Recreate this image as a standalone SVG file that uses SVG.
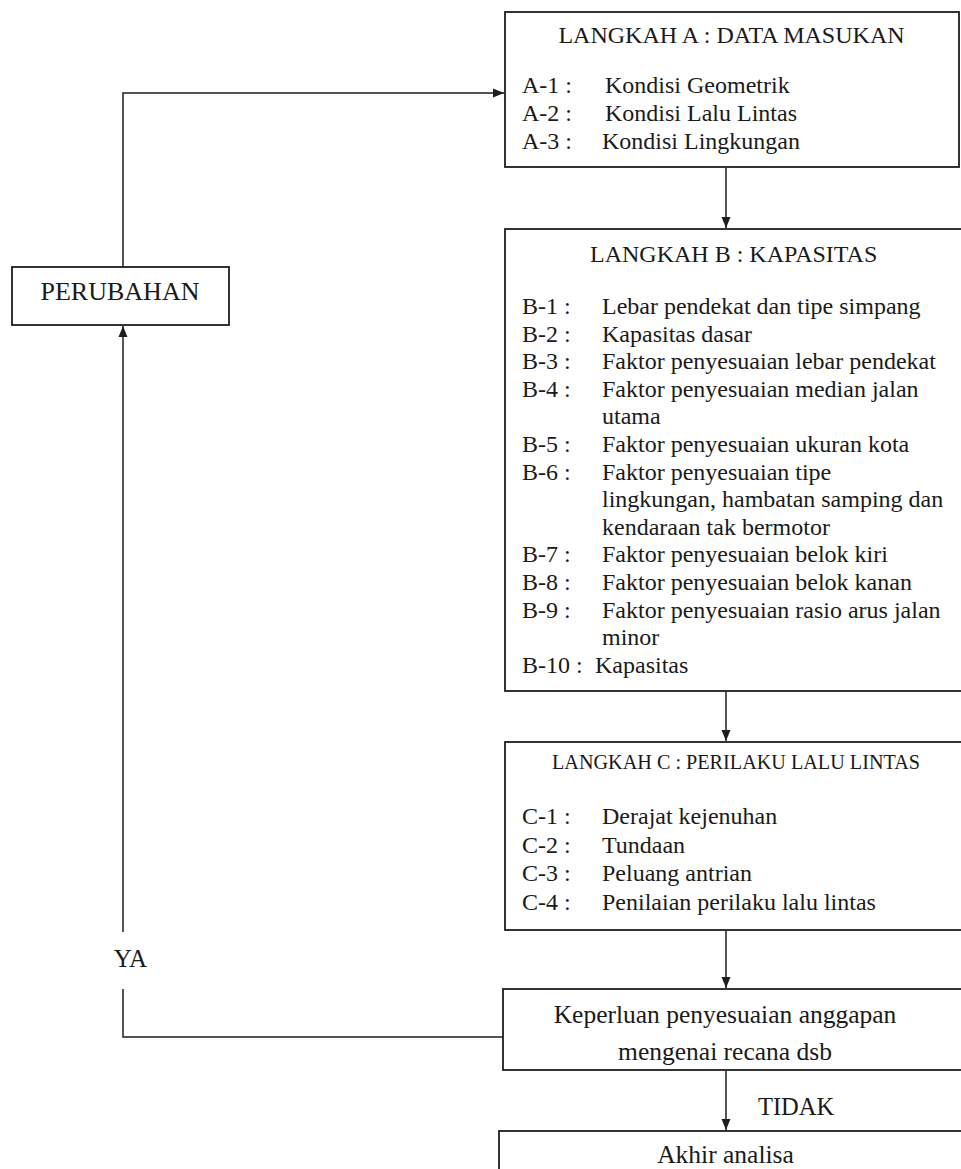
<svg xmlns="http://www.w3.org/2000/svg" width="961" height="1169" viewBox="0 0 961 1169">
<style>
.box{fill:#fff;stroke:#1e1e1e;stroke-width:1.8}
.ln{fill:none;stroke:#1e1e1e;stroke-width:1.5}
text{font-family:"Liberation Serif","Times New Roman",serif;font-size:24px;fill:#1a1a1a}
.mid{text-anchor:middle}
</style>
<defs>
<marker id="ah" markerUnits="userSpaceOnUse" markerWidth="12" markerHeight="12" viewBox="0 0 12 12" refX="11" refY="6" orient="auto">
<path d="M0,1.5 L11,6 L0,10.5 Z" fill="#1e1e1e"/>
</marker>
</defs>
<rect width="961" height="1169" fill="#fff"/>
<g id="connectors">
<path class="ln" d="M123,267 V93 H504" marker-end="url(#ah)"/>
<path class="ln" d="M726,168 V228" marker-end="url(#ah)"/>
<path class="ln" d="M726,692 V741" marker-end="url(#ah)"/>
<path class="ln" d="M726,931 V988" marker-end="url(#ah)"/>
<path class="ln" d="M726,1071 V1130" marker-end="url(#ah)"/>
<path class="ln" d="M503,1037 H123 V989"/>
<path class="ln" d="M123,932 V326" marker-end="url(#ah)"/>
<text x="130.5" y="967" class="mid" style="font-size:25px">YA</text>
<text x="758" y="1115" style="font-size:24.5px">TIDAK</text>
</g>
<g id="nodeA">
<rect class="box" x="505" y="12" width="454" height="155"/>
<text x="731.5" y="43" class="mid">LANGKAH A : DATA MASUKAN</text>
<text x="522" y="92.5">A-1 :</text><text x="605" y="92.5">Kondisi Geometrik</text>
<text x="522" y="120.8">A-2 :</text><text x="605" y="120.8">Kondisi Lalu Lintas</text>
<text x="522" y="149">A-3 :</text><text x="602" y="149">Kondisi Lingkungan</text>
</g>
<g id="nodeB">
<rect class="box" x="505" y="229" width="470" height="462"/>
<text x="590" y="261.5">LANGKAH B : KAPASITAS</text>
<text x="522" y="314">B-1 :</text><text x="602" y="314">Lebar pendekat dan tipe simpang</text>
<text x="522" y="341.6">B-2 :</text><text x="602" y="341.6">Kapasitas dasar</text>
<text x="522" y="369.2">B-3 :</text><text x="602" y="369.2">Faktor penyesuaian lebar pendekat</text>
<text x="522" y="396.8">B-4 :</text><text x="602" y="396.8">Faktor penyesuaian median jalan</text>
<text x="602" y="424.4">utama</text>
<text x="522" y="452">B-5 :</text><text x="602" y="452">Faktor penyesuaian ukuran kota</text>
<text x="522" y="479.6">B-6 :</text><text x="602" y="479.6">Faktor penyesuaian tipe</text>
<text x="602" y="507.2">lingkungan, hambatan samping dan</text>
<text x="602" y="534.8">kendaraan tak bermotor</text>
<text x="522" y="562.4">B-7 :</text><text x="602" y="562.4">Faktor penyesuaian belok kiri</text>
<text x="522" y="590">B-8 :</text><text x="602" y="590">Faktor penyesuaian belok kanan</text>
<text x="522" y="617.6">B-9 :</text><text x="602" y="617.6">Faktor penyesuaian rasio arus jalan</text>
<text x="602" y="645.2">minor</text>
<text x="522" y="672.8">B-10 :</text><text x="595" y="672.8">Kapasitas</text>
</g>
<g id="nodeC">
<rect class="box" x="505" y="742" width="470" height="188"/>
<text x="552" y="769" style="font-size:22px" textLength="368" lengthAdjust="spacingAndGlyphs">LANGKAH C : PERILAKU LALU LINTAS</text>
<text x="522" y="824">C-1 :</text><text x="602" y="824">Derajat kejenuhan</text>
<text x="522" y="852.5">C-2 :</text><text x="602" y="852.5">Tundaan</text>
<text x="522" y="881">C-3 :</text><text x="602" y="881">Peluang antrian</text>
<text x="522" y="910">C-4 :</text><text x="602" y="910">Penilaian perilaku lalu lintas</text>
</g>
<g id="nodeD">
<rect class="box" x="503" y="989" width="472" height="81"/>
<text x="725" y="1023" class="mid" style="font-size:25.5px">Keperluan penyesuaian anggapan</text>
<text x="725" y="1060" class="mid" style="font-size:25.5px">mengenai recana dsb</text>
</g>
<g id="nodeE">
<rect class="box" x="499" y="1131" width="476" height="60"/>
<text x="725.5" y="1163" class="mid" style="font-size:25.5px">Akhir analisa</text>
</g>
<g id="nodePerubahan">
<rect class="box" x="12" y="267" width="217" height="58"/>
<text x="120" y="300" class="mid" style="font-size:26px">PERUBAHAN</text>
</g>
</svg>
